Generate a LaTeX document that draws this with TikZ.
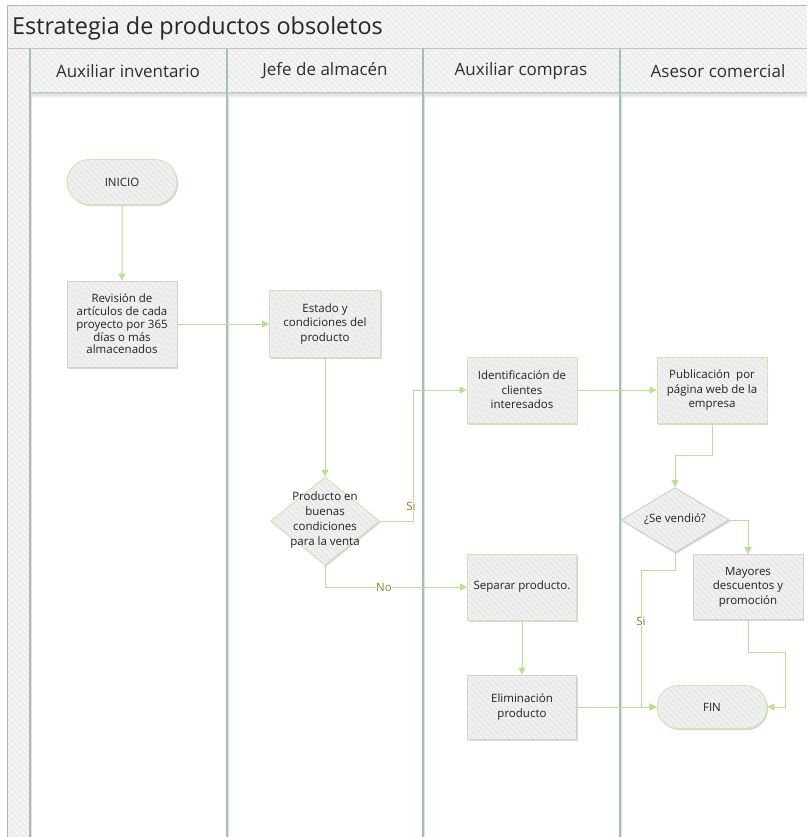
\documentclass[tikz,border=0pt]{standalone}
\usepackage{fontspec}
\setmainfont{Open Sans}
\usetikzlibrary{shapes.geometric,shapes.misc,arrows.meta,shadows,calc}

\definecolor{flow}{HTML}{B9E08F}
\definecolor{gborder}{HTML}{CDE8AE}
\definecolor{tborder}{HTML}{D8D1BF}
\definecolor{dborder}{HTML}{C9D3CC}
\definecolor{boxfill}{HTML}{EAEAEA}
\definecolor{bandfill}{HTML}{EDEDED}
\definecolor{lane}{HTML}{A6BDB8}
\definecolor{laneshade}{HTML}{DCE4E2}
\definecolor{ink}{HTML}{222222}
\definecolor{olive}{HTML}{9A7B2A}

\tikzset{
  hatch/.style={fill=#1, path picture={
      \coordinate (hnw) at (path picture bounding box.north west);
      \foreach \k in {-150,-144,...,150}
        \draw[white,opacity=.45,line width=1.3pt] ($(hnw)+(\k,-5)$) -- ++(170,170);
  }},
  softshadow/.style={drop shadow={shadow xshift=1.2pt,shadow yshift=-1.6pt,opacity=.16,fill=black}},
  box/.style={rectangle, draw=gborder, line width=0.9pt, hatch=boxfill, softshadow,
    inner sep=0pt, align=center, text=ink,
    font=\fontsize{11.5}{14.5}\selectfont},
  tanbox/.style={box, draw=tborder},
  term/.style={rounded rectangle, draw=gborder, line width=0.9pt, hatch=boxfill, softshadow,
    minimum width=110pt, inner sep=0pt, text=ink, font=\fontsize{11.5}{14.5}\selectfont},
  decision/.style={diamond, draw=gborder, line width=0.9pt, hatch=boxfill, softshadow, inner sep=0pt},
  dtext/.style={align=center, text=ink, font=\fontsize{11.5}{15}\selectfont, inner sep=0pt},
  conn/.style={draw=flow, line width=1pt, -{Triangle[width=7pt,length=7pt,fill=flow]}},
  lbl/.style={text=olive, fill=white, inner sep=0.8pt, font=\fontsize{11.5}{13}\selectfont},
  laneline/.style={draw=lane, line width=1.5pt},
  laneshadow/.style={draw=laneshade, line width=1.6pt},
  hdr/.style={text=black!82, font=\fontsize{17}{20}\selectfont, inner sep=0pt},
}

\begin{document}
\begin{tikzpicture}[x=1pt,y=-1pt]
  \useasboundingbox (0,0) rectangle (807,837);
  \fill[white] (0,0) rectangle (807,837);

  % title band, lane headers and left strip, with diagonal stripes
  \begin{scope}
    \clip (7,6) rectangle (807,49) (7,49) rectangle (30,837) (30,49) rectangle (807,93);
    \fill[bandfill] (0,0) rectangle (807,837);
    \foreach \k in {-840,-834,...,810}
      \draw[white,opacity=.6,line width=1.3pt] (\k,0) -- ++(850,850);
  \end{scope}

  % soft shade under the header row
  \shade[top color=black!14, bottom color=white] (30,93.5) rectangle (807,98);

  % frame lines
  \draw[lane, line width=1pt] (7,6) -- (807,6);
  \draw[lane, line width=1pt] (7,6) -- (7,837);
  \draw[lane!80, line width=1pt] (7,49) -- (807,49);
  \draw[lane!80, line width=1pt] (30,93) -- (807,93);

  % lane dividers
  \foreach \x in {30,227,423,620} {
    \draw[laneshadow] (\x+1.6,93) -- (\x+1.6,837);
    \draw[laneline] (\x,49) -- (\x,837);
  }

  % titles
  \node[anchor=base west, inner sep=0pt, text=black!85, font=\fontsize{23.4}{26}\selectfont]
    (title) at (12,35) {Estrategia de productos obsoletos};
  \node[hdr] (h1) at (128,71) {Auxiliar inventario};
  \node[hdr] (h2) at (325,71) {Jefe de almacén};
  \node[hdr] (h3) at (521,71) {Auxiliar compras};
  \node[hdr] (h4) at (718,71) {Asesor comercial};

  % process nodes
  \node[term, minimum height=45pt] (ini) at (122,182) {INICIO};
  \node[tanbox, minimum width=110pt, minimum height=86pt, font=\fontsize{11.5}{12.8}\selectfont] (rev) at (122,324)
    {Revisión de\\artículos de cada\\proyecto por 365\\días o más\\almacenados};
  \node[box, minimum width=111pt, minimum height=67pt] (est) at (325,324)
    {Estado y\\condiciones del\\producto};
  \node[decision, minimum width=109pt, minimum height=88pt] (d1) at (325,521) {};
  \node[dtext] (d1t) at (325,520) {Producto en\\buenas\\condiciones\\para la venta};
  \node[box, minimum width=110pt, minimum height=66pt] (ide) at (522,390)
    {Identificación de\\clientes\\interesados};
  \node[box, minimum width=110pt, minimum height=66pt] (pub) at (712,390)
    {Publicación~ por\\página web de la\\empresa};
  \node[decision, draw=dborder, minimum width=108pt, minimum height=65pt] (d2) at (675,520) {};
  \node[dtext] (d2t) at (675,519) {¿Se vendió?};
  \node[tanbox, minimum width=110pt, minimum height=65pt] (may) at (748,587)
    {Mayores\\descuentos y\\promoción};
  \node[box, minimum width=109pt, minimum height=66pt] (sep) at (522,587) {Separar producto.};
  \node[tanbox, minimum width=109pt, minimum height=64pt] (eli) at (522,707)
    {Eliminación\\producto};
  \node[term, minimum height=43pt] (fin) at (712,707) {FIN};

  % bend points
  \coordinate (j1) at (413,521);
  \coordinate (j2) at (675,455);
  \coordinate (j3) at (641,570);
  \coordinate (j4) at (785,652);

  % connectors
  \draw[conn] (ini) -- (rev);
  \draw[conn] (rev.east) -- (est.west);
  \draw[conn] (est) -- (d1);
  \draw[conn] (d1.east) -- (j1) |- (ide.west);
  \draw[conn] (d1.south) |- (sep.west);
  \draw[conn] (ide.east) -- (pub.west);
  \draw[conn] (pub.south) |- (j2) -- (d2.north);
  \draw[conn] (d2.east) -| (may.north);
  \draw[conn] (sep) -- (eli);
  \draw[conn] (eli.east) -- (fin.west);
  \draw[conn] (d2.south) |- (j3) -- (j3 |- fin.west) -- (fin.west);
  \draw[conn] (may.south) |- (j4) -- (j4 |- fin.east) -- (fin.east);

  % branch labels
  \node[lbl] (l1) at (411,506) {Si};
  \node[lbl] (l2) at (384,587) {No};
  \node[lbl] (l3) at (641,621) {Si};
\end{tikzpicture}
\end{document}
